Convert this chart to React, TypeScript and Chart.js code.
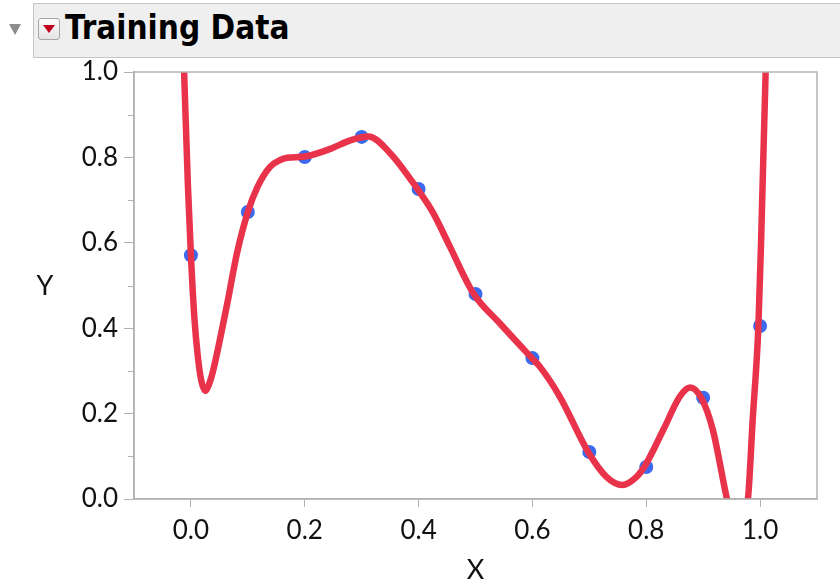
import React, { useEffect, useRef } from "react";
import { Chart, registerables } from "chart.js";

Chart.register(...registerables);

// Training points
const pointX = [0, 0.1, 0.2, 0.3, 0.4, 0.5, 0.6, 0.7, 0.8, 0.9, 1.0];
const pointY = [0.571, 0.672, 0.801, 0.848, 0.726, 0.48, 0.33, 0.11, 0.075, 0.237, 0.405];

// Fitted curve
const curveX = [
  -0.0145, -0.0123, -0.0105, -0.0053, 0, 0.0061, 0.0123, 0.0184, 0.0254, 0.031, 0.037, 0.046, 0.064,
  0.081, 0.1, 0.117, 0.139, 0.157, 0.169, 0.2, 0.245, 0.28, 0.312, 0.35, 0.398, 0.426, 0.455, 0.497,
  0.543, 0.599, 0.613, 0.648, 0.698, 0.73, 0.758, 0.783, 0.797, 0.83, 0.859, 0.877, 0.897, 0.917,
  0.941, 0.96, 0.979, 0.987, 0.997, 1.002, 1.0097, 1.013,
];
const curveY = [
  1.2, 1.023, 0.941, 0.735, 0.571, 0.424, 0.332, 0.276, 0.253, 0.266, 0.29, 0.342, 0.459,
  0.576, 0.672, 0.731, 0.778, 0.794, 0.799, 0.802, 0.82, 0.84, 0.849, 0.81, 0.726, 0.669, 0.591,
  0.48, 0.411, 0.33, 0.31, 0.24, 0.11, 0.052, 0.033, 0.052, 0.076, 0.162, 0.24, 0.261, 0.236,
  0.162, 0.005, -0.1, 0.005, 0.185, 0.404, 0.614, 0.997, 1.12,
];

const xTickValues = [0, 0.2, 0.4, 0.6, 0.8, 1.0];
const yTickValues = [0, 0.2, 0.4, 0.6, 0.8, 1.0];
const yMinorTickValues = [0.1, 0.3, 0.5, 0.7, 0.9];

const TITLE = "Training Data";
const X_TITLE = "X";
const Y_TITLE = "Y";

const AXIS_GRAY = "#b3b3b3";
const FONT = "Lato, 'Open Sans', sans-serif";

export default function App() {
  const ref = useRef<HTMLCanvasElement>(null);

  useEffect(() => {
    if (!ref.current) return;
    const framePlugin = {
      id: "frame",
      afterDraw(chart: any) {
        const { ctx, chartArea } = chart;
        const y = chart.scales.y;
        ctx.save();
        ctx.strokeStyle = AXIS_GRAY;
        ctx.lineWidth = 1.5;
        ctx.strokeRect(chartArea.left, chartArea.top, chartArea.right - chartArea.left, chartArea.bottom - chartArea.top);
        ctx.lineWidth = 1;
        ctx.beginPath();
        for (const v of yMinorTickValues) {
          const py = Math.round(y.getPixelForValue(v)) + 0.5;
          ctx.moveTo(chartArea.left - 6, py);
          ctx.lineTo(chartArea.left, py);
        }
        ctx.stroke();
        ctx.restore();
      },
    };

    const chart = new Chart(ref.current, {
      type: "scatter",
      data: {
        datasets: [
          {
            data: curveX.map((x, i) => ({ x, y: curveY[i] })),
            showLine: true,
            borderColor: "#e8334b",
            borderWidth: 6.5,
            pointRadius: 0,
            cubicInterpolationMode: "monotone",
            order: 0,
            clip: 0,
          } as any,
          {
            data: pointX.map((x, i) => ({ x, y: pointY[i] })),
            pointRadius: 7,
            pointBackgroundColor: "#3b6aee",
            backgroundColor: "#3b6aee",
            pointBorderWidth: 0,
            borderWidth: 0,
            order: 1,
          } as any,
        ],
      },
      options: {
        animation: false,
        responsive: false,
        maintainAspectRatio: false,
        layout: { padding: { left: 0, top: 72, right: 23, bottom: 0 } },
        plugins: { legend: { display: false }, tooltip: { enabled: false } },
        scales: {
          x: {
            type: "linear",
            min: -0.1,
            max: 1.1,
            afterBuildTicks: (s: any) => {
              s.ticks = xTickValues.map((value) => ({ value }));
            },
            afterFit: (s: any) => {
              s.height = 87;
            },
            grid: {
              drawOnChartArea: false,
              drawTicks: true,
              tickLength: 8,
              color: AXIS_GRAY,
              tickColor: AXIS_GRAY,
            },
            border: { display: true, color: AXIS_GRAY, width: 1.5 },
            ticks: {
              padding: 8,
              color: "#111",
              font: { family: FONT, size: 26 },
              callback: (v: any) => Number(v).toFixed(1),
            },
            title: {
              display: true,
              text: X_TITLE,
              color: "#111",
              font: { family: FONT, size: 27 },
              padding: { top: 0, bottom: 0 },
            },
          },
          y: {
            type: "linear",
            min: 0,
            max: 1,
            afterBuildTicks: (s: any) => {
              s.ticks = yTickValues.map((value) => ({ value }));
            },
            afterFit: (s: any) => {
              s.width = 134;
            },
            grid: {
              drawOnChartArea: false,
              drawTicks: true,
              tickLength: 10,
              color: AXIS_GRAY,
              tickColor: AXIS_GRAY,
            },
            border: { display: true, color: AXIS_GRAY, width: 1.5 },
            ticks: {
              padding: 6,
              color: "#111",
              font: { family: FONT, size: 26 },
              callback: (v: any) => Number(v).toFixed(1),
            },
          },
        },
      },
      plugins: [framePlugin],
    });
    return () => chart.destroy();
  }, []);

  return (
    <div style={{ position: "fixed", left: 0, top: 0, width: 840, height: 586, background: "#fff", overflow: "hidden" }}>
      <canvas ref={ref} width={840} height={586} style={{ position: "absolute", left: 0, top: 0, width: 840, height: 586 }} />
      {/* disclosure triangle */}
      <div
        style={{
          position: "absolute",
          left: 9,
          top: 24,
          width: 0,
          height: 0,
          borderLeft: "6px solid transparent",
          borderRight: "6px solid transparent",
          borderTop: "11px solid #8c8c8c",
        }}
      />
      {/* header panel */}
      <div
        style={{
          position: "absolute",
          left: 33,
          top: 3,
          width: 840,
          height: 53,
          background: "#efefef",
          border: "1px solid #c6c6c6",
        }}
      />
      {/* menu button */}
      <div
        style={{
          position: "absolute",
          left: 38,
          top: 18,
          width: 22,
          height: 22,
          boxSizing: "border-box",
          border: "1px solid #a6a6a6",
          borderRadius: 3,
          background: "linear-gradient(#fdfdfd, #e4e4e4)",
        }}
      >
        <div
          style={{
            position: "absolute",
            left: 4,
            top: 6,
            width: 0,
            height: 0,
            borderLeft: "6px solid transparent",
            borderRight: "6px solid transparent",
            borderTop: "8px solid #c0001c",
          }}
        />
      </div>
      <div
        style={{
          position: "absolute",
          left: 65,
          top: 11,
          fontFamily: "'Liberation Sans Narrow', 'DejaVu Sans Condensed', sans-serif",
          fontWeight: 700,
          fontSize: 33,
          lineHeight: "33px",
          color: "#000",
          whiteSpace: "nowrap",
        }}
      >
        {TITLE}
      </div>
      <div
        style={{
          position: "absolute",
          left: 25,
          top: 268,
          width: 40,
          textAlign: "center",
          fontFamily: FONT,
          fontSize: 27,
          lineHeight: "34px",
          color: "#111",
        }}
      >
        {Y_TITLE}
      </div>
    </div>
  );
}
